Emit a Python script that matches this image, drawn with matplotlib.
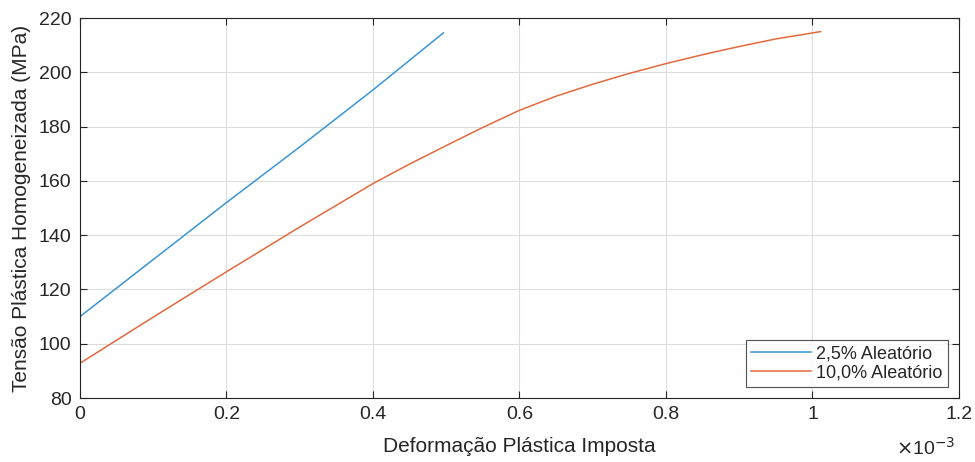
import matplotlib.pyplot as plt
import numpy as np

plt.rcParams['font.family'] = ['Liberation Sans', 'DejaVu Sans']

# dados (deformacao em 1e-3, tensao em MPa)
eps_25 = [0.0, 0.1, 0.2, 0.3, 0.4, 0.496]
sig_25 = [110.0, 131.0, 152.0, 172.5, 193.5, 214.5]

eps_10 = [0.0, 0.1, 0.2, 0.3, 0.4, 0.45, 0.5, 0.55, 0.6, 0.65, 0.7,
          0.75, 0.8, 0.85, 0.9, 0.95, 1.011]
sig_10 = [92.8, 109.8, 126.5, 143.0, 159.0, 166.2, 173.0, 179.7, 186.0, 191.2, 195.6,
          199.6, 203.2, 206.5, 209.5, 212.3, 215.0]

labels = ['2,5% Aleatório', '10,0% Aleatório']
xticks = [0, 0.2, 0.4, 0.6, 0.8, 1.0, 1.2]
xticklabels = ['0', '0.2', '0.4', '0.6', '0.8', '1', '1.2']
yticks = [80, 100, 120, 140, 160, 180, 200, 220]

fig = plt.figure(figsize=(9.75, 4.62), dpi=100)
ax = fig.add_axes([0.082, 0.1385, 0.9016, 0.8225])

ax.plot(eps_25, sig_25, color='#3a95d5', lw=1.1, label=labels[0])
ax.plot(eps_10, sig_10, color='#e4693e', lw=1.1, label=labels[1])

ax.set_xlim(0, 1.2)
ax.set_ylim(80, 220)
ax.set_xticks(xticks)
ax.set_xticklabels(xticklabels)
ax.set_yticks(yticks)

ax.grid(True, color='#dddddd', lw=0.8)
ax.set_axisbelow(True)
for s in ax.spines.values():
    s.set_color('#262626')
    s.set_linewidth(0.8)
ax.tick_params(direction='in', length=5, width=0.8, colors='#262626',
               labelsize=14, top=True, right=True, pad=6)

ax.set_xlabel('Deformação Plástica Imposta', fontsize=15, color='#262626', labelpad=10)
ax.set_ylabel('Tensão Plástica Homogeneizada (MPa)', fontsize=15, color='#262626', labelpad=6)

fig.text(955 / 975, 3 / 462, r'$\times$10$^{-3}$', ha='right', va='bottom',
         fontsize=14, color='#262626')

leg = ax.legend(loc='lower right', fontsize=13, frameon=True, fancybox=False,
                edgecolor='#262626', handlelength=3.3, borderaxespad=0.6,
                handletextpad=0.3, labelspacing=0.15, borderpad=0.3)
leg.get_frame().set_linewidth(0.8)
for t in leg.get_texts():
    t.set_color('#262626')

fig.savefig('out.png', dpi=100)
